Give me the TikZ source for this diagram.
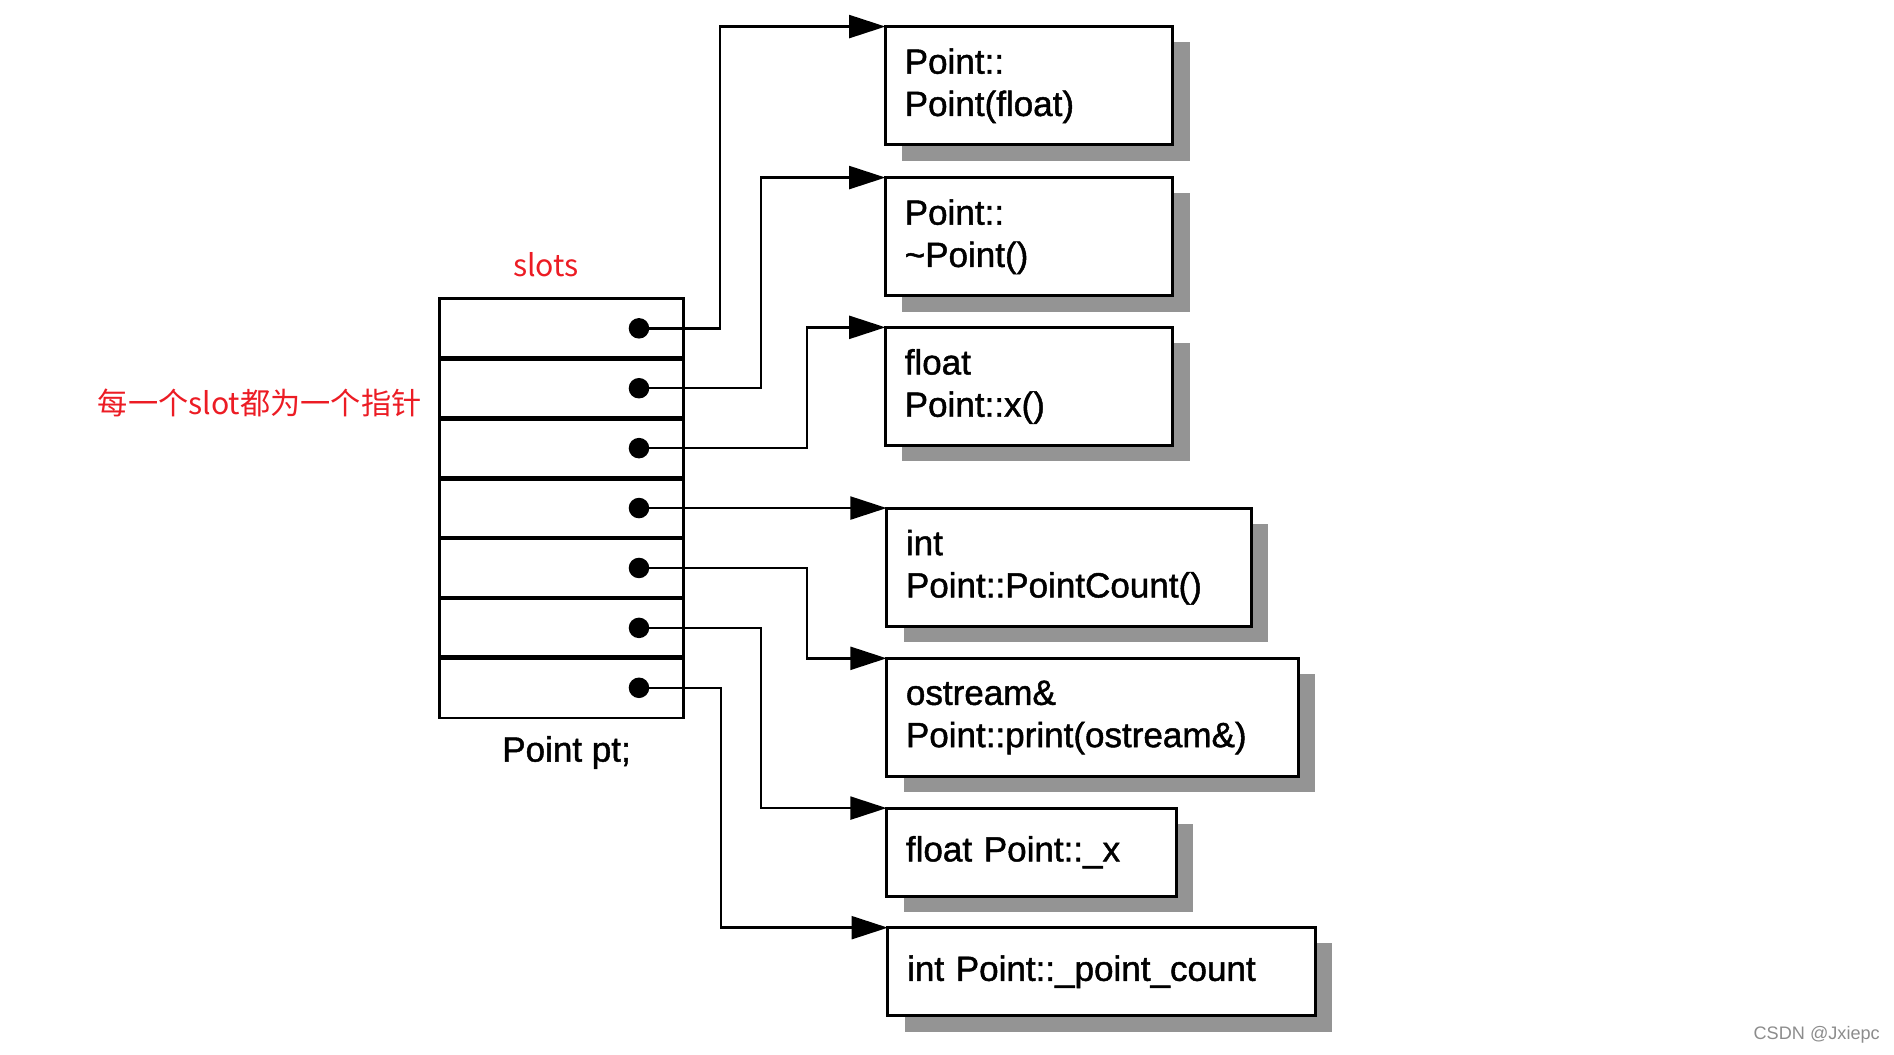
\documentclass[tikz,border=0pt]{standalone}
\usepackage{fontspec}
\setmainfont{Liberation Sans}
\newfontfamily\boxfont{Liberation Sans}[FakeBold=1.3]
\newfontfamily\cjk{Noto Sans CJK SC}
\usetikzlibrary{arrows.meta, shadows}
\definecolor{notered}{RGB}{236,28,36}

\begin{document}
\begin{tikzpicture}[x=1pt, y=-1pt,
    slotcell/.style={draw, line width=2pt, minimum width=202pt, minimum height=49.6pt, inner sep=0pt, outer sep=0pt},
    divider/.style={line width=4pt},
    ptrdot/.style={circle, fill=black, minimum size=17pt, inner sep=0pt},
    fn/.style={draw, line width=2.5pt, fill=white, anchor=north west, align=left, inner xsep=16pt, inner ysep=0pt, outer sep=0pt,
        minimum height=98pt, font=\boxfont\fontsize{29}{35}\selectfont,
        drop shadow={shadow xshift=14pt, shadow yshift=-13pt, fill=black!42, opacity=1}},
    fnline/.style={fn, minimum height=73pt},
    ptr/.style={-{Triangle[length=30pt, width=19pt]}, line width=2pt},
    note/.style={text=notered, font=\cjk\fontsize{25}{30}\selectfont}]
    \useasboundingbox (0,0) rectangle (1568,873);
    % the slot table
    \node[slotcell] (s1) at (465,271.8) {};
    \node[slotcell] (s2) at (465,321.4) {};
    \node[slotcell] (s3) at (465,371.0) {};
    \node[slotcell] (s4) at (465,420.6) {};
    \node[slotcell] (s5) at (465,470.2) {};
    \node[slotcell] (s6) at (465,519.8) {};
    \node[slotcell] (s7) at (465,569.4) {};
    \draw[divider] (s1.south west) -- (s1.south east);
    \draw[divider] (s2.south west) -- (s2.south east);
    \draw[divider] (s3.south west) -- (s3.south east);
    \draw[divider] (s4.south west) -- (s4.south east);
    \draw[divider] (s5.south west) -- (s5.south east);
    \draw[divider] (s6.south west) -- (s6.south east);
    \node[ptrdot] (p1) at (529,271.8) {};
    \node[ptrdot] (p2) at (529,321.4) {};
    \node[ptrdot] (p3) at (529,371.0) {};
    \node[ptrdot] (p4) at (529,420.6) {};
    \node[ptrdot] (p5) at (529,470.2) {};
    \node[ptrdot] (p6) at (529,519.8) {};
    \node[ptrdot] (p7) at (529,569.4) {};
    \node[font=\boxfont\fontsize{29}{35}\selectfont] (pt) at (469,623) {Point pt;};
    \node[note] (slots) at (452,219) {slots};
    \node[note] (every) at (215,334) {每一个slot都为一个指针};
    % members
    \node[fn, text width=206pt] (f1) at (733,22) {Point::\\Point(float)};
    \node[fn, text width=206pt] (f2) at (733,147) {Point::\\\textasciitilde Point()};
    \node[fn, text width=206pt] (f3) at (733,271) {float\\Point::x()};
    \node[fn, text width=270pt] (f4) at (734,420.6) {int\\Point::PointCount()};
    \node[fn, text width=309pt] (f5) at (734,545) {ostream\&\\Point::print(ostream\&)};
    \node[fnline, text width=208pt] (f6) at (734,669) {float Point::\_x};
    \node[fnline, text width=322pt] (f7) at (735,768) {int Point::\_point\_count};
    % pointers
    \draw[ptr] (p1.center) -- ++(67,0) |- (f1.north west);
    \draw[ptr] (p2.center) -- ++(101,0) |- (f2.north west);
    \draw[ptr] (p3.center) -- ++(139,0) |- (f3.north west);
    \draw[ptr] (p4.center) -- (f4.north west);
    \draw[ptr] (p5.center) -- ++(139,0) |- (f5.north west);
    \draw[ptr] (p6.center) -- ++(101,0) |- (f6.north west);
    \draw[ptr] (p7.center) -- ++(68,0) |- (f7.north west);
    \node[text=black!45, font=\fontsize{15}{18}\selectfont] (mark) at (1504,857) {CSDN @Jxiepc};
\end{tikzpicture}
\end{document}
